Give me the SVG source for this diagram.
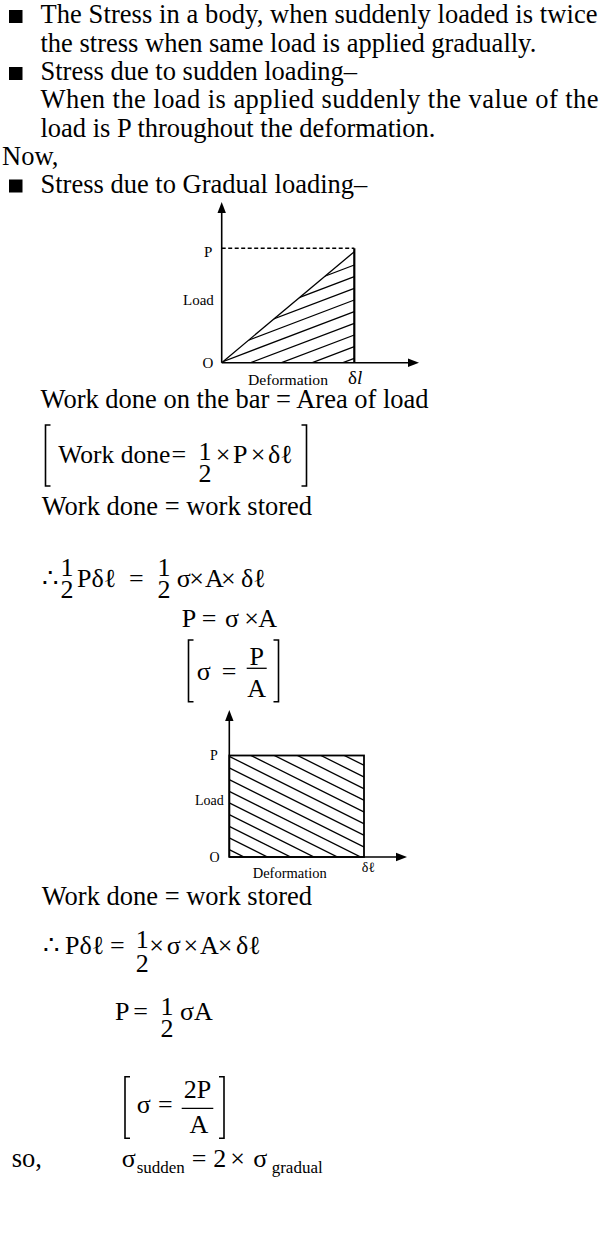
<svg xmlns="http://www.w3.org/2000/svg" width="604" height="1240" viewBox="0 0 604 1240">
<style>
text{font-family:"Liberation Serif","Times New Roman","DejaVu Serif",serif;fill:#000}
.b{font-size:26.5px}
.m{font-size:26px}
.c{text-anchor:middle}
.s{font-size:17px}
.g1{font-size:15px}
.g2{font-size:14px}
.ax{stroke:#000;stroke-width:1.6;fill:none}
.h{stroke:#000;stroke-width:1.3;fill:none}
.br{stroke:#000;stroke-width:1.6;fill:none}
</style>
<defs>
<clipPath id="tri"><polygon points="221.7,362.7 354.3,251.7 354.3,362.7"/></clipPath>
<clipPath id="rct"><rect x="229.3" y="755.5" width="134.7" height="101.5"/></clipPath>
</defs>
<rect width="604" height="1240" fill="#fff"/>

<g id="intro">
<rect x="9" y="10" width="13.5" height="13" fill="#000"/>
<text class="b" x="40.5" y="23.3" textLength="557" lengthAdjust="spacing">The Stress in a body, when suddenly loaded is twice</text>
<text class="b" x="40.5" y="51.7">the stress when same load is applied gradually.</text>
<rect x="9" y="67" width="13.5" height="13" fill="#000"/>
<text class="b" x="40.5" y="80">Stress due to sudden loading–</text>
<text class="b" x="40.5" y="108.3" textLength="558" lengthAdjust="spacing">When the load is applied suddenly the value of the</text>
<text class="b" x="40.5" y="136.7">load is P throughout the deformation.</text>
<text class="b" x="2" y="165">Now,</text>
<rect x="9" y="179.5" width="13.5" height="13" fill="#000"/>
<text class="b" x="40.5" y="192.7">Stress due to Gradual loading–</text>
</g>

<g id="graph-gradual">
<line class="ax" x1="221.7" y1="362.7" x2="221.7" y2="210"/>
<polygon points="221.7,202 217.5,213 225.9,213" fill="#000"/>
<line class="ax" x1="221.7" y1="362.7" x2="410" y2="362.7"/>
<polygon points="419,362.7 408,358.5 408,366.9" fill="#000"/>
<line x1="221.7" y1="248.3" x2="354.3" y2="248.3" stroke="#000" stroke-width="1.4" stroke-dasharray="4,2.5"/>
<line x1="354.3" y1="248.3" x2="354.3" y2="362.7" stroke="#000" stroke-width="2.2"/>
<line class="h" x1="221.7" y1="362.7" x2="354.3" y2="251.7"/>
<g clip-path="url(#tri)">
<line class="h" x1="354.3" y1="265" x2="200" y2="323.6"/>
<line class="h" x1="354.3" y1="276.7" x2="200" y2="335.3"/>
<line class="h" x1="354.3" y1="288.3" x2="200" y2="346.9"/>
<line class="h" x1="354.3" y1="300" x2="200" y2="358.6"/>
<line class="h" x1="354.3" y1="311.7" x2="200" y2="370.3"/>
<line class="h" x1="354.3" y1="323.3" x2="200" y2="381.9"/>
<line class="h" x1="354.3" y1="335" x2="200" y2="393.6"/>
<line class="h" x1="354.3" y1="346.7" x2="200" y2="405.3"/>
<line class="h" x1="354.3" y1="358.3" x2="200" y2="416.9"/>
</g>
<text class="g1" x="204" y="257">P</text>
<text class="g1" x="183" y="305">Load</text>
<text class="g1" x="202.5" y="368">O</text>
<text class="g1" x="248" y="385" textLength="80" lengthAdjust="spacingAndGlyphs">Deformation</text>
<text x="348" y="384" style="font-size:19px">δ<tspan font-style="italic">l</tspan></text>
</g>

<g id="work1">
<text class="b" x="40.5" y="408">Work done on the bar = Area of load</text>
<path class="br" d="M50.5,425 H45.5 V486 H50.5"/>
<path class="br" d="M301.5,425 H306.5 V486 H301.5"/>
<text class="m" x="58.3" y="463" style="font-size:25.5px">Work done</text>
<text class="m" x="171.5" y="463">=</text>
<text class="m c" x="205" y="460">1</text>
<text class="m c" x="205" y="481.7">2</text>
<text class="m c" x="223" y="463">×</text>
<text class="m" x="233" y="463">P</text>
<text class="m c" x="258" y="463">×</text>
<text class="m" x="268" y="463">δℓ</text>
<text class="b" x="41.7" y="515">Work done = work stored</text>
</g>

<g id="eq-gradual">
<text class="m" x="42" y="586.7">∴</text>
<text class="m c" x="67" y="576">1</text>
<text class="m c" x="67" y="598">2</text>
<text class="m" x="77" y="586.7">Pδℓ</text>
<text class="m" x="129" y="586.7">=</text>
<text class="m c" x="164" y="576">1</text>
<text class="m c" x="164" y="598">2</text>
<text class="m" x="176.7" y="586.7">σ</text>
<text class="m c" x="196.7" y="586.7">×</text>
<text class="m" x="205" y="586.7">A</text>
<text class="m c" x="228.3" y="586.7">×</text>
<text class="m" x="241" y="586.7">δℓ</text>
<text class="m" x="181.7" y="626.7">P</text>
<text class="m" x="201.7" y="626.7">=</text>
<text class="m" x="225" y="626.7">σ</text>
<text class="m c" x="251.7" y="626.7">×</text>
<text class="m" x="258.3" y="626.7">A</text>
<path class="br" d="M193.5,640 H188.5 V701.7 H193.5"/>
<path class="br" d="M273.5,640 H278.5 V701.7 H273.5"/>
<text class="m" x="196.7" y="680">σ</text>
<text class="m" x="221.7" y="680">=</text>
<text class="m c" x="256.7" y="665">P</text>
<line x1="246.7" y1="668.3" x2="266.7" y2="668.3" stroke="#000" stroke-width="1.3"/>
<text class="m c" x="256.7" y="696.7">A</text>
</g>

<g id="graph-sudden">
<line class="ax" x1="229.3" y1="857" x2="229.3" y2="718"/>
<polygon points="229.3,710 225.1,721 233.5,721" fill="#000"/>
<line class="ax" x1="229.3" y1="857" x2="398" y2="857"/>
<polygon points="407,857 396,852.8 396,861.2" fill="#000"/>
<rect x="229.3" y="755.5" width="134.7" height="101.5" fill="none" stroke="#000" stroke-width="1.8"/>
<g clip-path="url(#rct)">
<line class="h" x1="200" y1="683.3" x2="400" y2="783.3"/>
<line class="h" x1="200" y1="695" x2="400" y2="795"/>
<line class="h" x1="200" y1="706.7" x2="400" y2="806.7"/>
<line class="h" x1="200" y1="718.3" x2="400" y2="818.3"/>
<line class="h" x1="200" y1="730" x2="400" y2="830"/>
<line class="h" x1="200" y1="741.7" x2="400" y2="841.7"/>
<line class="h" x1="200" y1="753.3" x2="400" y2="853.3"/>
<line class="h" x1="200" y1="765" x2="400" y2="865"/>
<line class="h" x1="200" y1="776.7" x2="400" y2="876.7"/>
<line class="h" x1="200" y1="788.3" x2="400" y2="888.3"/>
<line class="h" x1="200" y1="800" x2="400" y2="900"/>
<line class="h" x1="200" y1="811.7" x2="400" y2="911.7"/>
<line class="h" x1="200" y1="823.3" x2="400" y2="923.3"/>
<line class="h" x1="200" y1="835" x2="400" y2="935"/>
</g>
<text class="g2" x="210" y="760">P</text>
<text class="g2" x="195" y="805">Load</text>
<text class="g2" x="209.5" y="862.3">O</text>
<text class="g2" x="252.7" y="878.3" textLength="74" lengthAdjust="spacingAndGlyphs">Deformation</text>
<text class="g2" x="361.7" y="871.7">δℓ</text>
</g>

<g id="eq-sudden">
<text class="b" x="41.7" y="905">Work done = work stored</text>
<text class="m" x="43" y="954">∴</text>
<text class="m" x="65" y="954">Pδℓ</text>
<text class="m" x="110" y="954">=</text>
<text class="m c" x="142.3" y="948.3">1</text>
<text class="m c" x="142.3" y="971.7">2</text>
<text class="m c" x="156.7" y="954">×</text>
<text class="m" x="166.7" y="954">σ</text>
<text class="m c" x="190.8" y="954">×</text>
<text class="m" x="200" y="954">A</text>
<text class="m c" x="225" y="954">×</text>
<text class="m" x="236" y="954">δℓ</text>
<text class="m" x="115" y="1020">P</text>
<text class="m" x="133.3" y="1020">=</text>
<text class="m c" x="167" y="1015">1</text>
<text class="m c" x="167" y="1036.7">2</text>
<text class="m" x="180" y="1020">σA</text>
<path class="br" d="M130,1076.7 H125 V1138.3 H130"/>
<path class="br" d="M219,1076.7 H224 V1138.3 H219"/>
<text class="m" x="136.7" y="1113.3">σ</text>
<text class="m" x="158" y="1113.3">=</text>
<text class="m c" x="197.5" y="1098.3">2P</text>
<line x1="181.7" y1="1108.3" x2="213.3" y2="1108.3" stroke="#000" stroke-width="1.3"/>
<text class="m c" x="199" y="1133.3">A</text>
</g>

<g id="conclusion">
<text class="b" x="11.7" y="1166.7">so,</text>
<text class="m" x="121.7" y="1166.7">σ</text>
<text class="s" x="136.7" y="1173.3">sudden</text>
<text class="m" x="191.7" y="1166.7">=</text>
<text class="m" x="213.3" y="1166.7">2</text>
<text class="m c" x="237.5" y="1166.7">×</text>
<text class="m" x="253.3" y="1166.7">σ</text>
<text class="s" x="271.7" y="1173.3">gradual</text>
</g>
</svg>
